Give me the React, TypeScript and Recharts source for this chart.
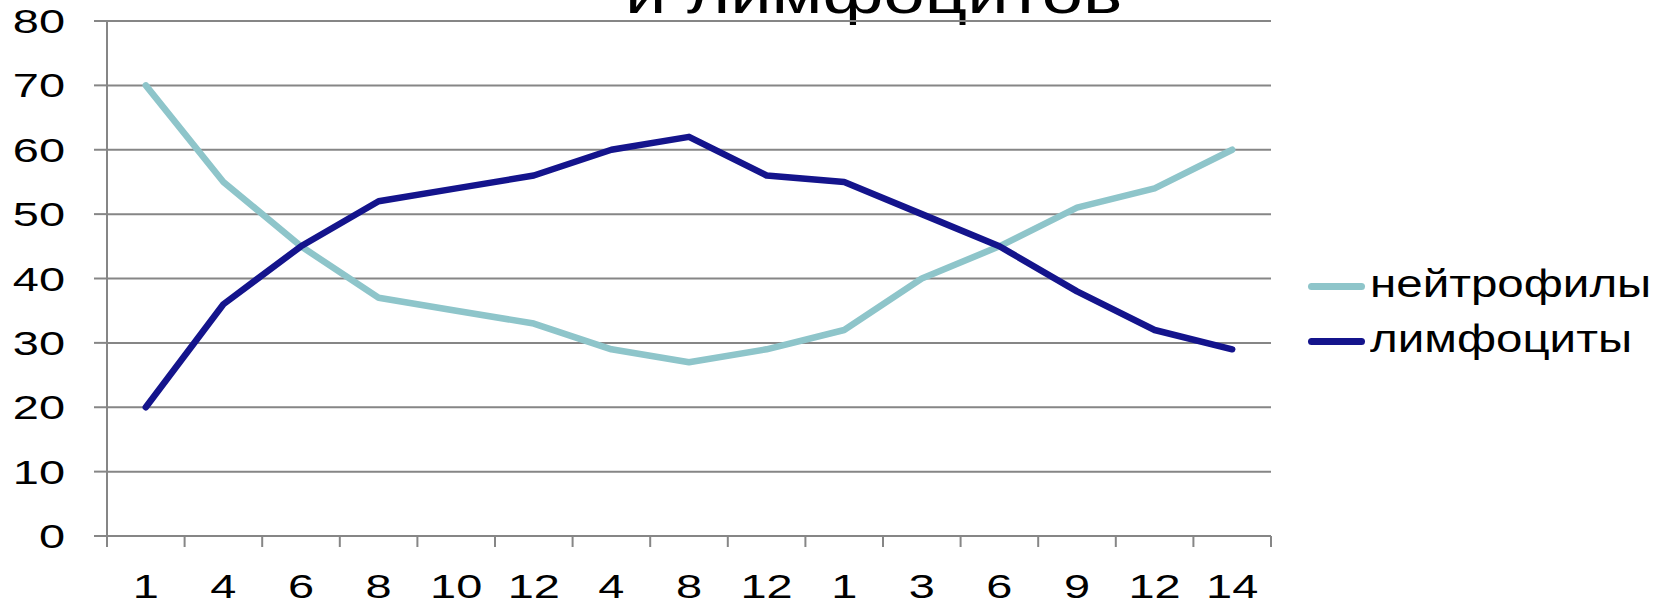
import { LineChart, Line, XAxis, YAxis, CartesianGrid, Legend } from 'recharts';

const CATEGORIES = ['1', '4', '6', '8', '10', '12', '4', '8', '12', '1', '3', '6', '9', '12', '14'];
const NEUTROPHILS = [70, 55, 45, 37, 35, 33, 29, 27, 29, 32, 40, 45, 51, 54, 60];
const LYMPHOCYTES = [20, 36, 45, 52, 54, 56, 60, 62, 56, 55, 50, 45, 38, 32, 29];
const Y_TICKS = [0, 10, 20, 30, 40, 50, 60, 70, 80];

const SERIES_NAMES = ['нейтрофилы', 'лимфоциты'];
const TITLE = 'и лимфоцитов';

const FONT = '"Liberation Sans", Arial, sans-serif';
const GRID = '#868686';
const STRETCH = 1.3;
const TICK_STRETCH = 1.38;

const W = 1667;
const H = 608;
const MARGIN = { top: 21, right: 396, bottom: 0, left: 0 };
const Y_WIDTH = 107;
// width of one category slot in px, used for the tick marks between labels
const SLOT = (W - MARGIN.left - MARGIN.right - Y_WIDTH) / CATEGORIES.length;

// category i sits in the middle of its slot, tick marks go on slot edges
const data = CATEGORIES.map((c, i) => ({
  x: i + 0.5,
  label: c,
  n: NEUTROPHILS[i],
  l: LYMPHOCYTES[i],
}));
const centers = data.map((d) => d.x);

function XTick(props: any) {
  const { x, y, payload, index } = props;
  const label = CATEGORIES[Math.floor(payload.value)];
  const last = index === CATEGORIES.length - 1;
  return (
    <g>
      <line x1={x - SLOT / 2} x2={x - SLOT / 2} y1={y} y2={y + 11} stroke={GRID} strokeWidth={2} />
      {last && <line x1={x + SLOT / 2} x2={x + SLOT / 2} y1={y} y2={y + 11} stroke={GRID} strokeWidth={2} />}
      <text
        transform={`translate(${x},${y + 62}) scale(${TICK_STRETCH},1)`}
        textAnchor="middle"
        fontFamily={FONT}
        fontSize={34}
        fill="#000"
      >
        {label}
      </text>
    </g>
  );
}

function YTick(props: any) {
  const { x, y, payload } = props;
  return (
    <g>
      <line x1={x + 29} x2={x + 42} y1={y} y2={y} stroke={GRID} strokeWidth={2} />
      <text
        transform={`translate(${x},${y + 12}) scale(${TICK_STRETCH},1)`}
        textAnchor="end"
        fontFamily={FONT}
        fontSize={34}
        fill="#000"
      >
        {payload.value}
      </text>
    </g>
  );
}

function LegendBox(props: any) {
  const items = [...(props.payload ?? [])].sort(
    (a: any, b: any) => SERIES_NAMES.indexOf(a.value) - SERIES_NAMES.indexOf(b.value)
  );
  return (
    <div style={{ display: 'flex', flexDirection: 'column', gap: 17 }}>
      {items.map((it: any) => (
        <div key={it.value} style={{ display: 'flex', alignItems: 'center', height: 38 }}>
          <span
            style={{
              display: 'inline-block',
              width: 57,
              height: 7,
              borderRadius: 3.5,
              background: it.color,
              marginRight: 5,
              marginTop: 4,
            }}
          />
          <span
            style={{
              fontFamily: FONT,
              fontSize: 38,
              lineHeight: '38px',
              color: '#000',
              display: 'inline-block',
              transform: `scaleX(1.25)`,
              transformOrigin: 'left center',
              whiteSpace: 'nowrap',
            }}
          >
            {it.value}
          </span>
        </div>
      ))}
    </div>
  );
}

export default function App() {
  return (
    <div style={{ position: 'absolute', left: 0, top: 0, width: W, height: H, background: '#fff', overflow: 'hidden' }}>
      <div
        style={{
          position: 'absolute',
          left: 625,
          top: 17 - 52,
          fontFamily: FONT,
          fontSize: 57,
          lineHeight: '57px',
          height: 60,
          color: '#000',
          transform: `scaleX(${STRETCH})`,
          transformOrigin: 'left top',
          whiteSpace: 'nowrap',
        }}
      >
        {TITLE}
      </div>
      <LineChart width={W} height={H} data={data} margin={MARGIN}>
        <CartesianGrid horizontal vertical={false} stroke={GRID} strokeWidth={2} strokeOpacity={1} />
        <XAxis
          type="number"
          dataKey="x"
          domain={[0, CATEGORIES.length]}
          ticks={centers}
          tick={<XTick />}
          tickSize={0}
          tickMargin={0}
          height={72}
          axisLine={{ stroke: GRID, strokeWidth: 2 }}
          tickLine={false}
          interval={0}
        />
        <YAxis
          type="number"
          domain={[0, 80]}
          ticks={Y_TICKS}
          width={Y_WIDTH}
          tickSize={13}
          tickMargin={29}
          tick={<YTick />}
          interval={0}
          axisLine={{ stroke: GRID, strokeWidth: 2 }}
          tickLine={false}
        />
        <Legend
          layout="vertical"
          align="center"
          verticalAlign="middle"
          content={<LegendBox />}
          wrapperStyle={{ left: 1308, top: 265, width: 359 }}
        />
        <Line
          type="linear"
          dataKey="n"
          name={SERIES_NAMES[0]}
          stroke="#8EC5CA"
          strokeWidth={6.5}
          strokeLinejoin="round"
          strokeLinecap="round"
          dot={false}
          activeDot={false}
          isAnimationActive={false}
        />
        <Line
          type="linear"
          dataKey="l"
          name={SERIES_NAMES[1]}
          stroke="#14148C"
          strokeWidth={6.5}
          strokeLinejoin="round"
          strokeLinecap="round"
          dot={false}
          activeDot={false}
          isAnimationActive={false}
        />
      </LineChart>
    </div>
  );
}
